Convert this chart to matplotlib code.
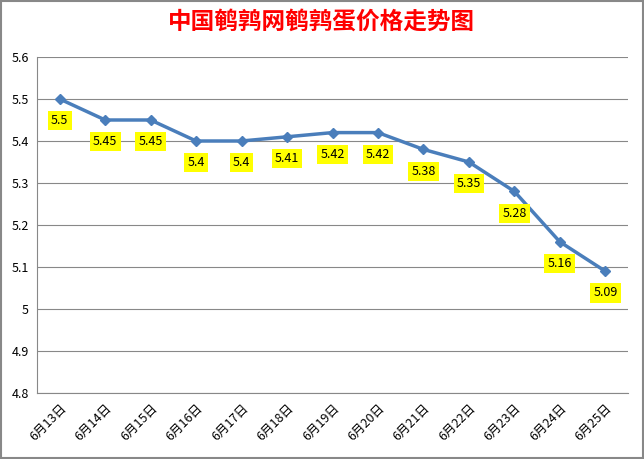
import matplotlib.pyplot as plt
import numpy as np

plt.rcParams['font.family'] = ['Noto Sans CJK SC', 'DejaVu Sans']

dates = ['6月13日', '6月14日', '6月15日', '6月16日', '6月17日', '6月18日', '6月19日',
         '6月20日', '6月21日', '6月22日', '6月23日', '6月24日', '6月25日']
prices = [5.5, 5.45, 5.45, 5.4, 5.4, 5.41, 5.42, 5.42, 5.38, 5.35, 5.28, 5.16, 5.09]
yticks = [4.8, 4.9, 5.0, 5.1, 5.2, 5.3, 5.4, 5.5, 5.6]
ylabels = ['4.8', '4.9', '5', '5.1', '5.2', '5.3', '5.4', '5.5', '5.6']

fig = plt.figure(figsize=(6.44, 4.59), dpi=100)
ax = fig.add_axes([37/644, 1 - 393/459, 591/644, 336/459])
fig.patches.append(plt.Rectangle((0.002, 0.002), 0.996, 0.996, transform=fig.transFigure,
                                 fill=False, edgecolor='#888888', lw=1.5))

x = np.arange(len(dates))
ax.plot(x, prices, color='#4a7ebb', lw=2.5, marker='D', markersize=5, zorder=3)
for xi, p in zip(x, prices):
    ax.annotate(f'{p:g}', (xi, p), xytext=(0, -11), textcoords='offset points',
                ha='center', va='top', fontsize=9,
                bbox=dict(boxstyle='square,pad=0.25', fc='#ffff00', ec='none'))

ax.set_xlim(-0.5, len(dates) - 0.5)
ax.set_ylim(4.8, 5.6)
ax.set_yticks(yticks)
ax.set_yticklabels(ylabels, fontsize=9)
ax.set_xticks(x)
ax.set_xticklabels(dates, rotation=45, ha='right', rotation_mode='anchor', fontsize=9)
ax.tick_params(length=0, pad=6)
ax.grid(axis='y', color='#888888', lw=0.8)
ax.set_axisbelow(True)
for s in ['top', 'right']:
    ax.spines[s].set_visible(False)
for s in ['left', 'bottom']:
    ax.spines[s].set_color('#888888')

fig.text(0.5, 1 - 22/459, '中国鹌鹑网鹌鹑蛋价格走势图', color='#ff0000', fontsize=17,
         ha='center', va='center', fontweight='bold')

fig.savefig('out.png', dpi=100)
